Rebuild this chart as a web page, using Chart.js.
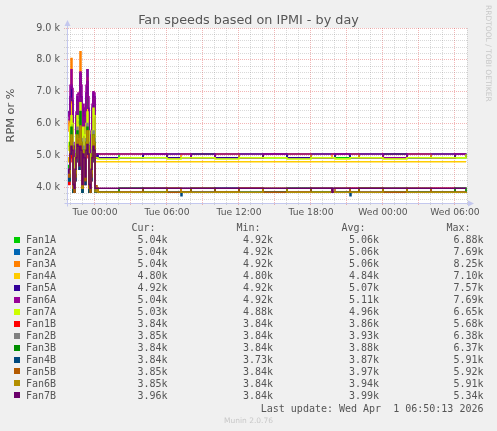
<!DOCTYPE html>
<html><head><meta charset="utf-8">
<script src="https://cdn.jsdelivr.net/npm/chart.js@4.4.1/dist/chart.umd.min.js"></script>
<style>
html,body{margin:0;padding:0;background:#f0f0f0;}
#wrap{position:relative;width:497px;height:431px;overflow:hidden;background:#f0f0f0;}
#c{position:absolute;left:0;top:0;}
.t{position:absolute;white-space:pre;color:#555;}
.mono{font-family:"DejaVu Sans Mono",monospace;font-size:10px;line-height:12px;}
.sq{position:absolute;width:6px;height:6px;}
</style></head><body>
<div id="wrap">
<canvas id="c" width="497" height="225"></canvas>
<div class="t" id="title" style="left:0;width:497px;top:12px;text-align:center;font-family:'DejaVu Sans';font-size:12.8px;line-height:15px;color:#555;">Fan speeds based on IPMI - by day</div>
<div class="t" id="rrd" style="left:484px;top:5px;writing-mode:vertical-rl;font-family:'DejaVu Sans';font-size:7.5px;line-height:9px;color:#c8c8c8;">RRDTOOL / TOBI OETIKER</div>
<div id="legend"></div>
</div>
<script>
// time of each sample, hours relative to Tue 00:00
const hours = [-2.333,-2.25,-2.167,-2.083,-2.0,-1.917,-1.833,-1.75,-1.667,-1.583,-1.5,-1.417,-1.333,-1.25,-1.167,-1.083,-1.0,-0.917,-0.833,-0.75,-0.667,-0.583,-0.5,-0.417,-0.333,-0.25,-0.167,-0.083,0,
  0.083,0.167,0.25,2,4,6,7.167,7.25,8,10,12,14,16,18,19.75,19.833,20,21.25,21.333,22,24,26,28,30,30.917];

const seriesNames = ['Fan1A','Fan2A','Fan3A','Fan4A','Fan5A','Fan6A','Fan7A','Fan1B','Fan2B','Fan3B','Fan4B','Fan5B','Fan6B','Fan7B'];
const seriesColors = ['#00cc00','#0066b3','#ff8000','#ffcc00','#330099','#990099','#ccff00','#ff0000','#808080','#008f00','#00487d','#b35a00','#b38f00','#6b006b'];

// values in thousands of RPM
const fan1A = [4.56,4.68,4.44,5.88,6.12, 5.76,4.08,4.08,4.92,5.76, 6.36,6.24,5.40,6.88,6.00, 4.32,6.12,5.88,4.68,6.12, 6.48,5.88,4.20,4.08,5.16, 5.88,6.60,6.24,5.04,
  5.04,5.04,5.04,4.92,5.04, 5.04,5.04,5.04,4.92,5.04, 5.04,4.92,5.04,5.04,5.04, 5.04,4.92,5.04,5.04,5.04, 4.92,5.04,5.04,4.92,5.04];
const fan2A = [4.44,4.32,4.56,6.24,7.20, 6.36,4.20,3.96,5.16,6.00, 6.72,6.48,5.64,7.32,6.48, 4.44,6.36,6.12,4.92,6.84, 7.69,6.36,4.32,4.20,5.40, 6.24,6.84,6.60,5.04,
  5.04,4.92,5.04,5.04,4.92, 5.04,5.04,5.04,5.04,4.92, 5.04,5.04,4.92,5.04,5.04, 5.04,5.04,4.92,4.92,5.04, 5.04,4.92,5.04,5.04,5.04];
const fan3A = [6.12,6.00,5.76,6.60,8.04, 6.24,4.32,4.08,5.28,6.24, 6.72,6.60,5.76,8.25,6.36, 4.56,6.36,6.12,4.92,6.72, 7.44,6.24,4.44,4.20,5.52, 6.36,6.84,6.72,4.92,
  4.92,5.04,5.04,5.04,5.04, 4.92,5.04,5.04,5.04,5.04, 4.92,5.04,5.04,4.92,5.04, 5.04,5.04,5.04,5.04,4.92, 5.04,5.04,4.92,5.04,5.04];
const fan4A = [4.80,4.92,4.80,6.00,6.60, 6.12,4.20,4.08,4.92,5.76, 6.48,6.36,5.52,7.10,6.00, 4.32,6.00,5.88,4.68,6.24, 6.72,6.00,4.20,4.08,5.04, 5.76,6.48,6.36,4.80,
  4.80,4.80,4.80,4.80,4.80, 4.80,4.80,4.80,4.80,4.80, 4.80,4.80,4.80,4.80,4.80, 4.80,4.80,4.80,4.80,4.80, 4.80,4.80,4.80,4.80,4.80];
const fan5A = [6.36,6.36,6.24,6.84,7.20, 6.72,4.44,4.08,5.28,6.24, 6.84,6.72,6.00,7.57,6.84, 4.56,6.48,6.24,5.04,6.96, 7.32,6.48,4.44,4.20,5.64, 6.48,6.96,6.84,4.92,
  4.92,5.04,4.92,4.92,5.04, 4.92,4.92,4.92,5.04,4.92, 4.92,5.04,4.92,4.92,4.92, 4.92,5.04,4.92,4.92,4.92, 5.04,4.92,4.92,5.04,4.92];
const fan6A = [6.36,6.24,6.12,7.20,7.69, 7.10,4.56,4.08,5.40,6.36, 6.90,6.96,6.24,7.62,7.20, 4.80,6.60,6.48,5.28,7.20, 7.69,6.84,4.56,4.32,5.76, 6.60,7.00,6.96,5.04,
  5.04,5.04,5.04,5.04,5.04, 5.04,5.04,5.04,4.92,5.04, 5.04,5.04,5.04,5.04,5.04, 5.04,5.04,5.04,5.04,5.04, 4.92,5.04,5.04,5.04,5.04];
const fan7A = [5.40,5.28,5.16,5.88,6.24, 6.00,4.20,4.08,4.92,5.64, 6.24,6.12,5.40,6.65,5.88, 4.32,5.88,5.64,4.56,6.00, 6.36,5.76,4.20,4.08,5.04, 5.76,6.48,6.24,4.92,
  4.92,4.92,4.88,4.92,4.92, 4.88,4.92,4.92,4.92,4.88, 4.92,4.92,4.88,4.92,4.92, 4.92,4.88,4.92,4.92,4.92, 4.88,4.92,4.92,4.92,5.03];
const fan1B = [4.08,4.20,4.08,4.80,5.16, 4.92,3.84,3.84,4.20,4.80, 5.40,5.28,4.56,5.68,5.04, 3.84,4.92,4.80,4.08,5.04, 5.52,4.92,3.84,3.84,4.20, 4.80,5.28,5.04,3.84,
  3.84,3.96,3.84,3.84,3.84, 3.96,3.84,3.84,3.84,3.84, 3.96,3.84,3.84,3.84,3.84, 3.84,3.84,3.96,3.96,3.84, 3.84,3.84,3.96,3.84,3.84];
const fan2B = [4.32,4.20,4.32,5.28,5.76, 5.40,3.96,3.84,4.44,5.16, 5.88,5.76,4.92,6.38,5.52, 3.96,5.28,5.16,4.32,5.52, 6.00,5.40,3.96,3.84,4.44, 5.16,5.76,5.52,3.85,
  3.96,3.96,3.84,3.96,3.84, 3.96,3.96,3.96,3.84,3.96, 3.96,3.84,3.96,3.84,3.96, 3.96,3.96,3.84,3.84,3.96, 3.84,3.96,3.84,3.96,3.85];
const fan3B = [4.44,4.32,4.20,5.40,5.88, 5.28,3.84,3.96,4.32,5.04, 5.76,5.64,4.80,6.37,5.40, 3.84,5.16,5.04,4.20,5.40, 5.88,5.28,3.84,3.84,4.32, 5.04,5.64,5.40,3.84,
  3.84,3.84,3.84,3.96,3.84, 3.84,3.84,3.84,3.96,3.84, 3.84,3.84,3.96,3.84,3.84, 3.84,3.84,3.84,3.84,3.96, 3.84,3.84,3.84,3.96,3.84];
const fan4B = [4.20,4.32,4.20,5.04,5.40, 5.04,3.84,3.84,4.20,4.80, 5.52,5.40,4.56,5.91,5.16, 3.84,4.92,4.80,4.08,5.16, 5.64,5.04,3.84,3.84,4.20, 4.80,5.40,5.16,3.84,
  3.84,3.84,3.84,3.84,3.96, 3.84,3.73,3.84,3.84,3.96, 3.84,3.84,3.84,3.96,3.84, 3.84,3.84,3.73,3.84,3.84, 3.96,3.84,3.84,3.84,3.84];
const fan5B = [4.32,4.44,4.32,5.16,5.52, 5.16,3.96,3.84,4.32,4.92, 5.52,5.40,4.68,5.92,5.28, 3.96,5.04,4.92,4.20,5.28, 5.76,5.16,3.96,3.84,4.32, 4.92,5.52,5.28,4.04,
  4.04,3.96,3.84,3.84,3.96, 3.84,3.84,3.84,3.96,3.84, 3.96,3.84,3.84,3.96,3.84, 3.84,3.96,3.84,3.84,3.96, 3.84,3.96,3.84,3.84,3.85];
const fan6B = [4.44,4.56,4.44,5.28,5.64, 5.28,3.96,3.96,4.44,5.04, 5.64,5.52,4.80,5.91,5.40, 3.96,5.16,5.04,4.32,5.40, 5.76,5.28,3.96,3.96,4.44, 5.04,5.64,5.40,3.85,
  3.85,3.96,3.84,3.84,3.84, 3.96,3.84,3.84,3.84,3.84, 3.84,3.96,3.84,3.84,3.84, 3.84,3.84,3.84,3.84,3.84, 3.96,3.84,3.84,3.84,3.85];
const fan7B = [4.56,4.44,4.56,5.04,5.28, 5.16,4.08,3.96,4.56,4.92, 5.34,5.28,4.68,5.28,5.16, 4.08,5.04,4.92,4.32,5.16, 5.34,5.04,4.08,3.96,4.56, 4.92,5.28,5.16,3.96,
  3.96,3.96,3.96,3.96,3.96, 3.96,3.96,3.96,3.96,3.96, 3.96,3.96,3.96,3.96,3.84, 3.96,3.96,3.96,3.96,3.96, 3.96,3.96,3.96,3.96,3.96];
const seriesValues = [fan1A,fan2A,fan3A,fan4A,fan5A,fan6A,fan7A,fan1B,fan2B,fan3B,fan4B,fan5B,fan6B,fan7B];

// legend statistics (k)
const curK = [5.04,5.04,5.04,4.80,4.92,5.04,5.03,3.84,3.85,3.84,3.84,3.85,3.85,3.96];
const minK = [4.92,4.92,4.92,4.80,4.92,4.92,4.88,3.84,3.84,3.84,3.73,3.84,3.84,3.84];
const avgK = [5.06,5.06,5.06,4.84,5.07,5.11,4.96,3.86,3.93,3.88,3.87,3.97,3.94,3.99];
const maxK = [6.88,7.69,8.25,7.10,7.57,7.69,6.65,5.68,6.38,6.37,5.91,5.92,5.91,5.34];

// tick labels
const xLabelHours = [0,6,12,18,24,30];
const xLabelTexts = ['Tue 00:00','Tue 06:00','Tue 12:00','Tue 18:00','Wed 00:00','Wed 06:00'];
const yLabelValues = [4,5,6,7,8,9];
const yLabelTexts = ['4.0 k','5.0 k','6.0 k','7.0 k','8.0 k','9.0 k'];
const lastUpdate = 'Last update: Wed Apr  1 06:50:13 2026';

const MAJOR = 'rgba(224,80,80,0.42)';
const MINOR = 'rgba(130,130,130,0.3)';
const AXIS = '#c4c8ee';

const xGrid = []; for (let h = -2; h <= 31; h++) xGrid.push(h);
const yGrid = []; for (let i = 18; i <= 45; i++) yGrid.push(i / 5);

const N = seriesNames.length;
const datasets = seriesNames.map((n, i) => ({
  label: n,
  data: hours.map((h, j) => ({x: h, y: seriesValues[i][j]})),
  borderColor: seriesColors[i],
  backgroundColor: seriesColors[i],
  borderWidth: 1.5,
  pointRadius: 0,
  stepped: true,
  fill: false,
  order: N - 1 - i
}));

const bgPlugin = {
  id: 'bg',
  beforeDraw(chart) {
    const {ctx, chartArea: a} = chart;
    ctx.save(); ctx.fillStyle = '#ffffff';
    ctx.fillRect(a.left, a.top, a.right - a.left, a.bottom - a.top);
    ctx.restore();
  },
  afterDraw(chart) {
    const {ctx, chartArea: a} = chart;
    ctx.save();
    ctx.strokeStyle = AXIS; ctx.fillStyle = AXIS; ctx.lineWidth = 1;
    const lx = Math.round(a.left) + 0.5, by = Math.round(a.bottom) + 0.5;
    ctx.beginPath();
    ctx.moveTo(lx, by + 3); ctx.lineTo(lx, a.top - 4);
    ctx.moveTo(lx - 3, by); ctx.lineTo(a.right + 4, by);
    ctx.stroke();
    ctx.beginPath();
    ctx.moveTo(lx - 3, a.top - 2); ctx.lineTo(lx + 3, a.top - 2); ctx.lineTo(lx, a.top - 8); ctx.closePath(); ctx.fill();
    ctx.beginPath();
    ctx.moveTo(a.right + 1, by - 3); ctx.lineTo(a.right + 1, by + 3); ctx.lineTo(a.right + 7, by); ctx.closePath(); ctx.fill();
    ctx.restore();
  }
};

const gridColor = (isMajor) => (ctx) => (ctx.tick && isMajor(ctx.tick.value)) ? MAJOR : MINOR;
const xMajor = v => Math.abs(v % 3) < 1e-9;
const yMajor = v => Math.abs(v - Math.round(v)) < 1e-6;

new Chart(document.getElementById('c'), {
  type: 'line',
  data: {datasets},
  plugins: [bgPlugin],
  options: {
    responsive: false,
    animation: false,
    events: [],
    layout: {padding: {left: 0, right: 30, top: 28, bottom: 0}},
    plugins: {legend: {display: false}, tooltip: {enabled: false}, title: {display: false}},
    scales: {
      x: {
        type: 'linear', min: -2.3333, max: 31.0,
        afterBuildTicks: s => { s.ticks = xGrid.map(v => ({value: v})); },
        afterFit: s => { s.height = 22; },
        ticks: {
          autoSkip: false, maxRotation: 0, minRotation: 0, padding: 1, color: '#555',
          font: {family: 'DejaVu Sans', size: 9.2},
          callback: v => { const k = xLabelHours.indexOf(v); return k >= 0 ? xLabelTexts[k] : ''; }
        },
        grid: {color: gridColor(xMajor), tickColor: gridColor(xMajor), lineWidth: 1, tickLength: 3, tickBorderDash: [1, 1], drawTicks: true},
        border: {display: true, color: AXIS, width: 1, dash: [1, 1]}
      },
      y: {
        type: 'linear', min: 3.5, max: 9.0,
        afterBuildTicks: s => { s.ticks = yGrid.map(v => ({value: v})); },
        afterFit: s => { s.width = 67; },
        ticks: {
          autoSkip: false, padding: 4, color: '#555',
          font: {family: 'DejaVu Sans', size: 9.6},
          callback: v => { const k = yLabelValues.findIndex(y => Math.abs(y - v) < 1e-6); return k >= 0 ? yLabelTexts[k] : ''; }
        },
        title: {display: true, text: 'RPM or %', color: '#555', font: {family: 'DejaVu Sans', size: 11.3}, padding: {top: 4, bottom: 0}},
        grid: {color: gridColor(yMajor), tickColor: gridColor(yMajor), lineWidth: 1, tickLength: 3, tickBorderDash: [1, 1], drawTicks: true},
        border: {display: true, color: AXIS, width: 1, dash: [1, 1]}
      }
    }
  }
});

// legend table
const lg = document.getElementById('legend');
function put(text, opts) {
  const d = document.createElement('div');
  d.className = 't ' + (opts.cls || 'mono');
  d.textContent = text;
  if (opts.left !== undefined) d.style.left = opts.left + 'px';
  if (opts.right !== undefined) { d.style.right = (497 - opts.right) + 'px'; d.style.textAlign = 'right'; }
  d.style.top = (opts.cy - 5.8) + 'px';
  lg.appendChild(d);
}
const colRight = [167.5, 273, 379, 483.5];
const headLeft = [131.5, 236.5, 341.5, 446.5];
['Cur:', 'Min:', 'Avg:', 'Max:'].forEach((h, k) => put(h, {left: headLeft[k], cy: 228}));
const fmt = v => v.toFixed(2) + 'k';
seriesNames.forEach((n, i) => {
  const cy = 240 + i * 11.95;
  const sq = document.createElement('div');
  sq.className = 'sq';
  sq.style.left = '14px'; sq.style.top = (cy - 3) + 'px'; sq.style.background = seriesColors[i];
  lg.appendChild(sq);
  put(n, {left: 26, cy});
  [curK, minK, avgK, maxK].forEach((arr, k) => put(fmt(arr[i]), {right: colRight[k], cy}));
});
put(lastUpdate, {right: 483.5, cy: 408.3});
const mu = document.createElement('div');
mu.className = 't';
mu.textContent = 'Munin 2.0.76';
Object.assign(mu.style, {left: '0px', width: '497px', textAlign: 'center', top: '415.5px', fontFamily: 'DejaVu Sans', fontSize: '7.5px', lineHeight: '9px', color: '#c8c8c8'});
lg.appendChild(mu);
</script>
</body></html>
